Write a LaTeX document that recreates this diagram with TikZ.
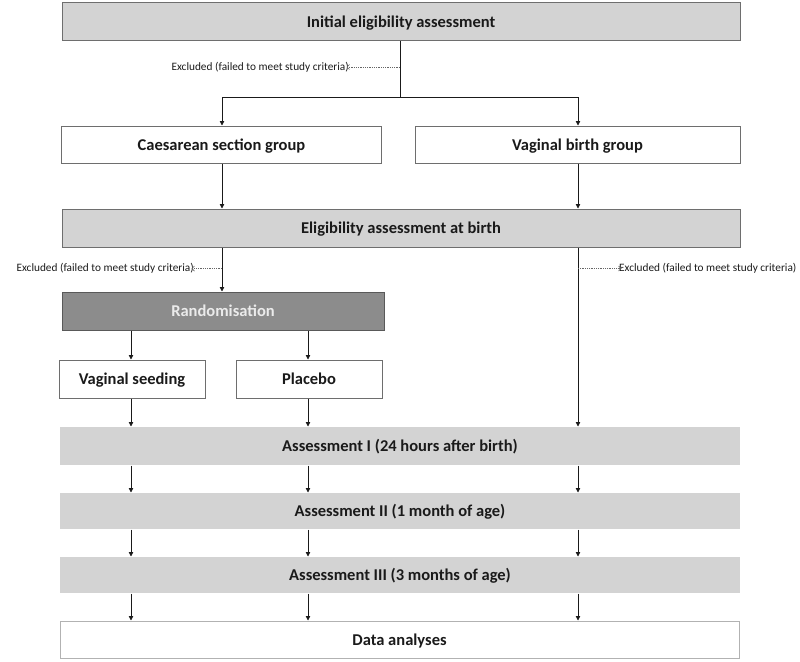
\documentclass[tikz,border=0pt]{standalone}
\usepackage{fontspec}
\setmainfont{Carlito}
\usetikzlibrary{arrows.meta}
\definecolor{lgray}{HTML}{D3D3D3}
\definecolor{dgray}{HTML}{8C8C8C}
\definecolor{edge}{HTML}{6E6E6E}
\definecolor{ink}{HTML}{1A1A1A}
\tikzset{
  boxbase/.style={rectangle, inner sep=0pt, line width=1pt, text=ink,
    text height=11pt, text depth=0pt,
    font=\bfseries\fontsize{16.5}{18}\selectfont},
  greybox/.style={boxbase, fill=lgray, draw=edge},
  whitebox/.style={boxbase, fill=white, draw=edge},
  darkbox/.style={boxbase, fill=dgray, draw=black!65, text=white!92!black},
  flatbox/.style={boxbase, fill=lgray},
  endbox/.style={boxbase, fill=white, draw=black!30},
  arr/.style={draw=ink, line width=0.8pt, -{Triangle[length=4.5pt,width=4.5pt]}},
  ln/.style={draw=ink, line width=0.8pt},
  dotarr/.style={draw=black!60, line width=0.7pt, dash pattern=on 0.9pt off 0.9pt,
    -{Straight Barb[length=2.5pt,width=5pt,line width=0.7pt]}},
  exl/.style={inner sep=0pt, text=ink, font=\fontsize{11.3}{13}\selectfont},
}
\begin{document}
\begin{tikzpicture}[x=1pt,y=-1pt]
\useasboundingbox (0,0) rectangle (800,661);
% boxes
\node[greybox, minimum width=678pt, minimum height=38pt] (init) at (401,22) {Initial eligibility assessment};
\node[whitebox, minimum width=320pt, minimum height=37pt] (cs) at (221.5,144.5) {Caesarean section group};
\node[whitebox, minimum width=325pt, minimum height=37pt] (vb) at (577.5,144.5) {Vaginal birth group};
\node[greybox, minimum width=678pt, minimum height=38pt] (elig) at (401,228) {Eligibility assessment at birth};
\node[darkbox, minimum width=322pt, minimum height=38pt] (rand) at (223,311) {Randomisation};
\node[whitebox, minimum width=146pt, minimum height=38pt] (vs) at (132,379) {Vaginal seeding};
\node[whitebox, minimum width=146pt, minimum height=38pt] (pl) at (309,379) {Placebo};
\node[flatbox, minimum width=680pt, minimum height=38pt] (a1) at (400,446) {Assessment I (24 hours after birth)};
\node[flatbox, minimum width=680pt, minimum height=36pt] (a2) at (400,511) {Assessment II (1 month of age)};
\node[flatbox, minimum width=680pt, minimum height=36pt] (a3) at (400,575) {Assessment III (3 months of age)};
\node[endbox, minimum width=679pt, minimum height=37pt] (da) at (399.5,639.5) {Data analyses};
% exclusion labels
\node[exl, anchor=east] (ex1) at (349,67) {Excluded (failed to meet study criteria)};
\node[exl, anchor=east] (ex2) at (194,268.5) {Excluded (failed to meet study criteria)};
\node[exl, anchor=west] (ex3) at (619,268.5) {Excluded (failed to meet study criteria)};
% junction coordinates
\coordinate (split) at (400,97);
\coordinate (d1) at (400,67);
\coordinate (lx) at (222,0);
\coordinate (mx) at (308,0);
\coordinate (vx) at (131,0);
\coordinate (rx) at (578,0);
\coordinate (d2) at (222,268.5);
\coordinate (d3) at (578,268.5);
% connectors
\draw[ln] (init.south -| split) -- (split);
\draw[arr] (split) -| (cs.north -| lx);
\draw[arr] (split) -| (vb.north -| rx);
\draw[dotarr] (d1) -- ([xshift=-2.5pt]ex1.east);
\draw[arr] (cs.south -| lx) -- (elig.north -| lx);
\draw[arr] (vb.south -| rx) -- (elig.north -| rx);
\draw[arr] (elig.south -| lx) -- (rand.north -| lx);
\draw[arr] (elig.south -| rx) -- (a1.north -| rx);
\draw[dotarr] (d2) -- ([xshift=-2.5pt]ex2.east);
\draw[dotarr] (d3) -- ([xshift=2.5pt]ex3.west);
\draw[arr] (rand.south -| vx) -- (vs.north -| vx);
\draw[arr] (rand.south -| mx) -- (pl.north -| mx);
\draw[arr] (vs.south -| vx) -- (a1.north -| vx);
\draw[arr] (pl.south -| mx) -- (a1.north -| mx);
\foreach \c in {vx,mx,rx}{
  \draw[arr] (a1.south -| \c) -- (a2.north -| \c);
  \draw[arr] (a2.south -| \c) -- (a3.north -| \c);
  \draw[arr] (a3.south -| \c) -- (da.north -| \c);
}
\end{tikzpicture}
\end{document}
